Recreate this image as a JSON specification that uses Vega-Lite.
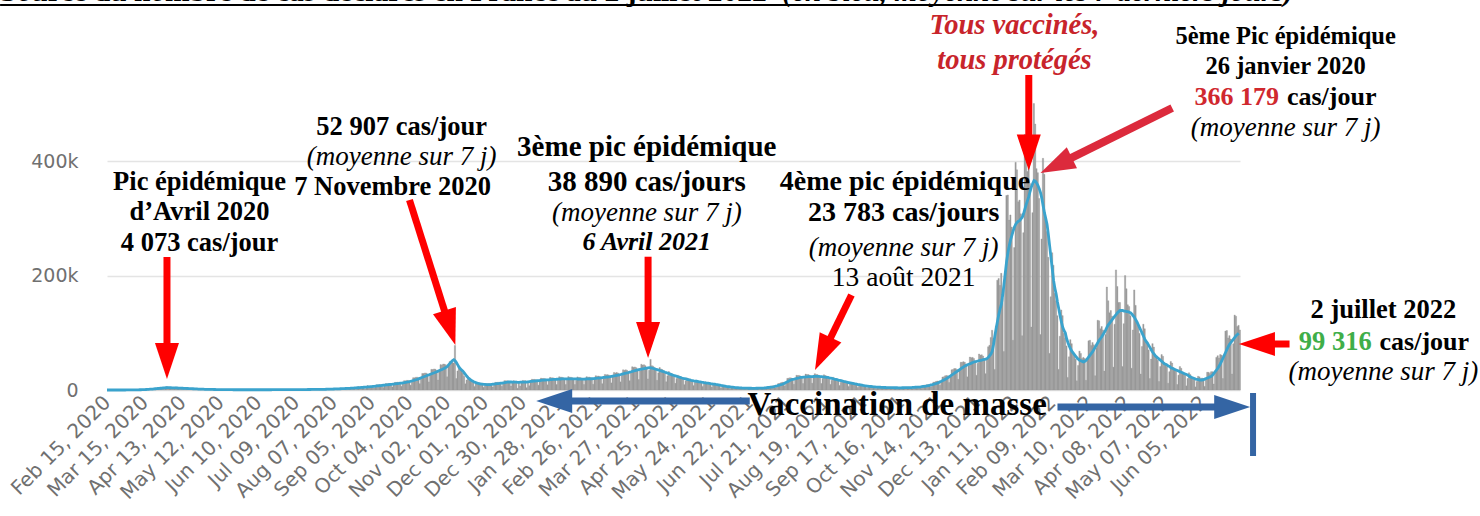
{
"$schema":"https://vega.github.io/schema/vega-lite/v6.json",
"width":1133,"height":286,
"autosize":{"type":"none"},
"padding":{"left":107,"top":104,"right":240,"bottom":126},
"background":"white",
"config":{"view":{"stroke":null},"axis":{"labelFont":"DejaVu Sans"}},
"datasets":{"cases":[
{"d":"2020-02-15","c":0,"a":0},{"d":"2020-02-16","c":0,"a":0},{"d":"2020-02-17","c":0,"a":0},{"d":"2020-02-18","c":0,"a":0},{"d":"2020-02-19","c":0,"a":0},{"d":"2020-02-20","c":0,"a":0},{"d":"2020-02-21","c":0,"a":0},
{"d":"2020-02-22","c":0,"a":0},{"d":"2020-02-23","c":0,"a":0},{"d":"2020-02-24","c":0,"a":0},{"d":"2020-02-25","c":0.01,"a":0.01},{"d":"2020-02-26","c":0.01,"a":0.01},{"d":"2020-02-27","c":0.02,"a":0.02},{"d":"2020-02-28","c":0.02,"a":0.02},
{"d":"2020-02-29","c":0.03,"a":0.03},{"d":"2020-03-01","c":0.02,"a":0.05},{"d":"2020-03-02","c":0.06,"a":0.07},{"d":"2020-03-03","c":0.12,"a":0.08},{"d":"2020-03-04","c":0.12,"a":0.1},{"d":"2020-03-05","c":0.13,"a":0.12},{"d":"2020-03-06","c":0.14,"a":0.13},
{"d":"2020-03-07","c":0.15,"a":0.15},{"d":"2020-03-08","c":0.06,"a":0.21},{"d":"2020-03-09","c":0.22,"a":0.28},{"d":"2020-03-10","c":0.51,"a":0.34},{"d":"2020-03-11","c":0.49,"a":0.41},{"d":"2020-03-12","c":0.52,"a":0.47},{"d":"2020-03-13","c":0.59,"a":0.54},
{"d":"2020-03-14","c":0.6,"a":0.6},{"d":"2020-03-15","c":0.23,"a":0.76},{"d":"2020-03-16","c":0.73,"a":0.91},{"d":"2020-03-17","c":1.6,"a":1.07},{"d":"2020-03-18","c":1.48,"a":1.23},{"d":"2020-03-19","c":1.53,"a":1.39},{"d":"2020-03-20","c":1.69,"a":1.54},
{"d":"2020-03-21","c":1.7,"a":1.7},{"d":"2020-03-22","c":0.58,"a":1.93},{"d":"2020-03-23","c":1.73,"a":2.16},{"d":"2020-03-24","c":3.59,"a":2.39},{"d":"2020-03-25","c":3.13,"a":2.61},{"d":"2020-03-26","c":3.12,"a":2.84},{"d":"2020-03-27","c":3.38,"a":3.07},
{"d":"2020-03-28","c":3.3,"a":3.3},{"d":"2020-03-29","c":1.05,"a":3.5},{"d":"2020-03-30","c":3,"a":3.75},{"d":"2020-03-31","c":5.93,"a":3.95},{"d":"2020-04-01","c":4.88,"a":4.07},{"d":"2020-04-02","c":4.46,"a":4.05},{"d":"2020-04-03","c":4.4,"a":4},
{"d":"2020-04-04","c":3.9,"a":3.9},{"d":"2020-04-05","c":1.15,"a":3.82},{"d":"2020-04-06","c":2.98,"a":3.73},{"d":"2020-04-07","c":5.46,"a":3.64},{"d":"2020-04-08","c":4.27,"a":3.56},{"d":"2020-04-09","c":3.82,"a":3.47},{"d":"2020-04-10","c":3.73,"a":3.39},
{"d":"2020-04-11","c":3.3,"a":3.3},{"d":"2020-04-12","c":0.96,"a":3.19},{"d":"2020-04-13","c":2.46,"a":3.07},{"d":"2020-04-14","c":4.44,"a":2.96},{"d":"2020-04-15","c":3.41,"a":2.84},{"d":"2020-04-16","c":3,"a":2.73},{"d":"2020-04-17","c":2.87,"a":2.61},
{"d":"2020-04-18","c":2.5,"a":2.5},{"d":"2020-04-19","c":0.72,"a":2.39},{"d":"2020-04-20","c":1.82,"a":2.27},{"d":"2020-04-21","c":3.24,"a":2.16},{"d":"2020-04-22","c":2.45,"a":2.04},{"d":"2020-04-23","c":2.12,"a":1.93},{"d":"2020-04-24","c":1.99,"a":1.81},
{"d":"2020-04-25","c":1.7,"a":1.7},{"d":"2020-04-26","c":0.48,"a":1.61},{"d":"2020-04-27","c":1.22,"a":1.53},{"d":"2020-04-28","c":2.16,"a":1.44},{"d":"2020-04-29","c":1.63,"a":1.36},{"d":"2020-04-30","c":1.4,"a":1.27},{"d":"2020-05-01","c":1.31,"a":1.19},
{"d":"2020-05-02","c":1.1,"a":1.1},{"d":"2020-05-03","c":0.32,"a":1.06},{"d":"2020-05-04","c":0.81,"a":1.01},{"d":"2020-05-05","c":1.46,"a":0.97},{"d":"2020-05-06","c":1.12,"a":0.93},{"d":"2020-05-07","c":0.98,"a":0.89},{"d":"2020-05-08","c":0.92,"a":0.84},
{"d":"2020-05-09","c":0.8,"a":0.8},{"d":"2020-05-10","c":0.23,"a":0.77},{"d":"2020-05-11","c":0.59,"a":0.74},{"d":"2020-05-12","c":1.07,"a":0.71},{"d":"2020-05-13","c":0.83,"a":0.69},{"d":"2020-05-14","c":0.73,"a":0.66},{"d":"2020-05-15","c":0.69,"a":0.63},
{"d":"2020-05-16","c":0.6,"a":0.6},{"d":"2020-05-17","c":0.17,"a":0.58},{"d":"2020-05-18","c":0.45,"a":0.56},{"d":"2020-05-19","c":0.81,"a":0.54},{"d":"2020-05-20","c":0.61,"a":0.51},{"d":"2020-05-21","c":0.54,"a":0.49},{"d":"2020-05-22","c":0.52,"a":0.47},
{"d":"2020-05-23","c":0.45,"a":0.45},{"d":"2020-05-24","c":0.13,"a":0.44},{"d":"2020-05-25","c":0.35,"a":0.44},{"d":"2020-05-26","c":0.65,"a":0.43},{"d":"2020-05-27","c":0.5,"a":0.42},{"d":"2020-05-28","c":0.45,"a":0.41},{"d":"2020-05-29","c":0.45,"a":0.41},
{"d":"2020-05-30","c":0.4,"a":0.4},{"d":"2020-05-31","c":0.12,"a":0.4},{"d":"2020-06-01","c":0.32,"a":0.4},{"d":"2020-06-02","c":0.6,"a":0.4},{"d":"2020-06-03","c":0.48,"a":0.4},{"d":"2020-06-04","c":0.44,"a":0.4},{"d":"2020-06-05","c":0.44,"a":0.4},
{"d":"2020-06-06","c":0.4,"a":0.4},{"d":"2020-06-07","c":0.12,"a":0.4},{"d":"2020-06-08","c":0.33,"a":0.41},{"d":"2020-06-09","c":0.62,"a":0.41},{"d":"2020-06-10","c":0.49,"a":0.41},{"d":"2020-06-11","c":0.45,"a":0.41},{"d":"2020-06-12","c":0.46,"a":0.42},
{"d":"2020-06-13","c":0.42,"a":0.42},{"d":"2020-06-14","c":0.13,"a":0.43},{"d":"2020-06-15","c":0.35,"a":0.44},{"d":"2020-06-16","c":0.68,"a":0.45},{"d":"2020-06-17","c":0.54,"a":0.45},{"d":"2020-06-18","c":0.51,"a":0.46},{"d":"2020-06-19","c":0.52,"a":0.47},
{"d":"2020-06-20","c":0.48,"a":0.48},{"d":"2020-06-21","c":0.15,"a":0.49},{"d":"2020-06-22","c":0.4,"a":0.5},{"d":"2020-06-23","c":0.77,"a":0.51},{"d":"2020-06-24","c":0.62,"a":0.52},{"d":"2020-06-25","c":0.58,"a":0.53},{"d":"2020-06-26","c":0.59,"a":0.54},
{"d":"2020-06-27","c":0.55,"a":0.55},{"d":"2020-06-28","c":0.17,"a":0.56},{"d":"2020-06-29","c":0.45,"a":0.56},{"d":"2020-06-30","c":0.86,"a":0.57},{"d":"2020-07-01","c":0.7,"a":0.58},{"d":"2020-07-02","c":0.65,"a":0.59},{"d":"2020-07-03","c":0.65,"a":0.59},
{"d":"2020-07-04","c":0.6,"a":0.6},{"d":"2020-07-05","c":0.18,"a":0.61},{"d":"2020-07-06","c":0.5,"a":0.63},{"d":"2020-07-07","c":0.96,"a":0.64},{"d":"2020-07-08","c":0.79,"a":0.66},{"d":"2020-07-09","c":0.74,"a":0.67},{"d":"2020-07-10","c":0.76,"a":0.69},
{"d":"2020-07-11","c":0.7,"a":0.7},{"d":"2020-07-12","c":0.22,"a":0.72},{"d":"2020-07-13","c":0.59,"a":0.74},{"d":"2020-07-14","c":1.14,"a":0.76},{"d":"2020-07-15","c":0.95,"a":0.79},{"d":"2020-07-16","c":0.89,"a":0.81},{"d":"2020-07-17","c":0.91,"a":0.83},
{"d":"2020-07-18","c":0.85,"a":0.85},{"d":"2020-07-19","c":0.26,"a":0.88},{"d":"2020-07-20","c":0.73,"a":0.91},{"d":"2020-07-21","c":1.41,"a":0.94},{"d":"2020-07-22","c":1.15,"a":0.96},{"d":"2020-07-23","c":1.09,"a":0.99},{"d":"2020-07-24","c":1.12,"a":1.02},
{"d":"2020-07-25","c":1.05,"a":1.05},{"d":"2020-07-26","c":0.33,"a":1.09},{"d":"2020-07-27","c":0.9,"a":1.12},{"d":"2020-07-28","c":1.74,"a":1.16},{"d":"2020-07-29","c":1.43,"a":1.19},{"d":"2020-07-30","c":1.35,"a":1.23},{"d":"2020-07-31","c":1.39,"a":1.26},
{"d":"2020-08-01","c":1.3,"a":1.3},{"d":"2020-08-02","c":0.41,"a":1.37},{"d":"2020-08-03","c":1.15,"a":1.44},{"d":"2020-08-04","c":2.27,"a":1.51},{"d":"2020-08-05","c":1.91,"a":1.59},{"d":"2020-08-06","c":1.83,"a":1.66},{"d":"2020-08-07","c":1.9,"a":1.73},
{"d":"2020-08-08","c":1.8,"a":1.8},{"d":"2020-08-09","c":0.57,"a":1.9},{"d":"2020-08-10","c":1.6,"a":2},{"d":"2020-08-11","c":3.15,"a":2.1},{"d":"2020-08-12","c":2.64,"a":2.2},{"d":"2020-08-13","c":2.53,"a":2.3},{"d":"2020-08-14","c":2.64,"a":2.4},
{"d":"2020-08-15","c":2.5,"a":2.5},{"d":"2020-08-16","c":0.79,"a":2.63},{"d":"2020-08-17","c":2.21,"a":2.76},{"d":"2020-08-18","c":4.34,"a":2.89},{"d":"2020-08-19","c":3.61,"a":3.01},{"d":"2020-08-20","c":3.45,"a":3.14},{"d":"2020-08-21","c":3.6,"a":3.27},
{"d":"2020-08-22","c":3.4,"a":3.4},{"d":"2020-08-23","c":1.07,"a":3.57},{"d":"2020-08-24","c":2.99,"a":3.74},{"d":"2020-08-25","c":5.87,"a":3.91},{"d":"2020-08-26","c":4.91,"a":4.09},{"d":"2020-08-27","c":4.69,"a":4.26},{"d":"2020-08-28","c":4.87,"a":4.43},
{"d":"2020-08-29","c":4.6,"a":4.6},{"d":"2020-08-30","c":1.44,"a":4.8},{"d":"2020-08-31","c":4,"a":5},{"d":"2020-09-01","c":7.8,"a":5.2},{"d":"2020-09-02","c":6.48,"a":5.4},{"d":"2020-09-03","c":6.16,"a":5.6},{"d":"2020-09-04","c":6.38,"a":5.8},
{"d":"2020-09-05","c":6.77,"a":6},{"d":"2020-09-06","c":3.52,"a":6.26},{"d":"2020-09-07","c":6.56,"a":6.51},{"d":"2020-09-08","c":9.05,"a":6.77},{"d":"2020-09-09","c":8.97,"a":7.03},{"d":"2020-09-10","c":9.27,"a":7.29},{"d":"2020-09-11","c":9.14,"a":7.54},
{"d":"2020-09-12","c":8.57,"a":7.8},{"d":"2020-09-13","c":4.42,"a":8.06},{"d":"2020-09-14","c":8.18,"a":8.31},{"d":"2020-09-15","c":11.2,"a":8.57},{"d":"2020-09-16","c":11,"a":8.83},{"d":"2020-09-17","c":11.4,"a":9.09},{"d":"2020-09-18","c":11.1,"a":9.34},
{"d":"2020-09-19","c":10.4,"a":9.6},{"d":"2020-09-20","c":5.35,"a":9.87},{"d":"2020-09-21","c":9.9,"a":10.1},{"d":"2020-09-22","c":13.4,"a":10.4},{"d":"2020-09-23","c":13.2,"a":10.7},{"d":"2020-09-24","c":13.7,"a":11},{"d":"2020-09-25","c":13.4,"a":11.2},
{"d":"2020-09-26","c":12.6,"a":11.5},{"d":"2020-09-27","c":6.45,"a":11.9},{"d":"2020-09-28","c":12,"a":12.2},{"d":"2020-09-29","c":16.3,"a":12.6},{"d":"2020-09-30","c":16.1,"a":12.9},{"d":"2020-10-01","c":16.8,"a":13.3},{"d":"2020-10-02","c":16.8,"a":13.6},
{"d":"2020-10-03","c":15.9,"a":14},{"d":"2020-10-04","c":8.3,"a":14.6},{"d":"2020-10-05","c":15.5,"a":15.3},{"d":"2020-10-06","c":21.5,"a":15.9},{"d":"2020-10-07","c":21.3,"a":16.6},{"d":"2020-10-08","c":22.3,"a":17.2},{"d":"2020-10-09","c":22.4,"a":17.9},
{"d":"2020-10-10","c":21.3,"a":18.5},{"d":"2020-10-11","c":11.1,"a":19.4},{"d":"2020-10-12","c":20.8,"a":20.4},{"d":"2020-10-13","c":28.9,"a":21.3},{"d":"2020-10-14","c":28.8,"a":22.2},{"d":"2020-10-15","c":29.8,"a":23.1},{"d":"2020-10-16","c":29.4,"a":24.1},
{"d":"2020-10-17","c":27.6,"a":25},{"d":"2020-10-18","c":14.2,"a":25.9},{"d":"2020-10-19","c":26.4,"a":26.7},{"d":"2020-10-20","c":36.1,"a":27.6},{"d":"2020-10-21","c":35.7,"a":28.4},{"d":"2020-10-22","c":36.8,"a":29.3},{"d":"2020-10-23","c":36.3,"a":30.1},
{"d":"2020-10-24","c":34,"a":31},{"d":"2020-10-25","c":17.5,"a":32},{"d":"2020-10-26","c":32.4,"a":33},{"d":"2020-10-27","c":44.4,"a":34},{"d":"2020-10-28","c":43.7,"a":35},{"d":"2020-10-29","c":45.4,"a":36},{"d":"2020-10-30","c":45.1,"a":37},
{"d":"2020-10-31","c":44,"a":38},{"d":"2020-11-01","c":23,"a":39.5},{"d":"2020-11-02","c":44,"a":41},{"d":"2020-11-03","c":50,"a":44},{"d":"2020-11-04","c":49,"a":46.5},{"d":"2020-11-05","c":48,"a":49},{"d":"2020-11-06","c":47,"a":51.5},
{"d":"2020-11-07","c":78,"a":52.9},{"d":"2020-11-08","c":20,"a":51},{"d":"2020-11-09","c":33.3,"a":48},{"d":"2020-11-10","c":42,"a":44},{"d":"2020-11-11","c":38,"a":40},{"d":"2020-11-12","c":34.5,"a":37},{"d":"2020-11-13","c":29.7,"a":35},
{"d":"2020-11-14","c":24,"a":33},{"d":"2020-11-15","c":10.8,"a":30},{"d":"2020-11-16","c":17.6,"a":27},{"d":"2020-11-17","c":21,"a":24},{"d":"2020-11-18","c":18.4,"a":21.5},{"d":"2020-11-19","c":17,"a":19.5},{"d":"2020-11-20","c":15.1,"a":17.5},
{"d":"2020-11-21","c":12.8,"a":16},{"d":"2020-11-22","c":6,"a":14.8},{"d":"2020-11-23","c":10.3,"a":13.7},{"d":"2020-11-24","c":13.1,"a":12.8},{"d":"2020-11-25","c":12.1,"a":12},{"d":"2020-11-26","c":11.7,"a":11.4},{"d":"2020-11-27","c":10.9,"a":10.9},
{"d":"2020-11-28","c":9.7,"a":10.5},{"d":"2020-11-29","c":4.75,"a":10.2},{"d":"2020-11-30","c":8.46,"a":9.9},{"d":"2020-12-01","c":11.3,"a":9.7},{"d":"2020-12-02","c":10.9,"a":9.5},{"d":"2020-12-03","c":11.3,"a":9.4},{"d":"2020-12-04","c":11.1,"a":9.4},
{"d":"2020-12-05","c":10.4,"a":9.5},{"d":"2020-12-06","c":5.35,"a":9.8},{"d":"2020-12-07","c":9.9,"a":10.1},{"d":"2020-12-08","c":13.4,"a":10.4},{"d":"2020-12-09","c":13.2,"a":10.7},{"d":"2020-12-10","c":13.7,"a":11},{"d":"2020-12-11","c":13.4,"a":11.2},
{"d":"2020-12-12","c":12.6,"a":11.5},{"d":"2020-12-13","c":6.45,"a":11.9},{"d":"2020-12-14","c":12,"a":12.2},{"d":"2020-12-15","c":16.3,"a":12.6},{"d":"2020-12-16","c":16.1,"a":12.9},{"d":"2020-12-17","c":16.1,"a":13.3},{"d":"2020-12-18","c":15.4,"a":13.6},
{"d":"2020-12-19","c":13.9,"a":14},{"d":"2020-12-20","c":6.9,"a":14},{"d":"2020-12-21","c":12.3,"a":14},{"d":"2020-12-22","c":16.3,"a":13.9},{"d":"2020-12-23","c":15.5,"a":13.8},{"d":"2020-12-24","c":15.5,"a":13.7},{"d":"2020-12-25","c":3,"a":13.6},
{"d":"2020-12-26","c":13.7,"a":13.5},{"d":"2020-12-27","c":6.9,"a":13.5},{"d":"2020-12-28","c":12.5,"a":13.6},{"d":"2020-12-29","c":16.7,"a":13.7},{"d":"2020-12-30","c":16.1,"a":13.8},{"d":"2020-12-31","c":16.4,"a":13.9},{"d":"2021-01-01","c":4,"a":13.9},
{"d":"2021-01-02","c":14.9,"a":14},{"d":"2021-01-03","c":7.55,"a":14.3},{"d":"2021-01-04","c":13.9,"a":14.6},{"d":"2021-01-05","c":18.8,"a":14.9},{"d":"2021-01-06","c":18.4,"a":15.1},{"d":"2021-01-07","c":18.6,"a":15.4},{"d":"2021-01-08","c":18,"a":15.7},
{"d":"2021-01-09","c":16.6,"a":16},{"d":"2021-01-10","c":8.45,"a":16.2},{"d":"2021-01-11","c":15.4,"a":16.4},{"d":"2021-01-12","c":20.8,"a":16.6},{"d":"2021-01-13","c":20.1,"a":16.9},{"d":"2021-01-14","c":20.2,"a":17.1},{"d":"2021-01-15","c":19.6,"a":17.3},
{"d":"2021-01-16","c":17.9,"a":17.5},{"d":"2021-01-17","c":9.05,"a":17.6},{"d":"2021-01-18","c":16.4,"a":17.8},{"d":"2021-01-19","c":22.1,"a":17.9},{"d":"2021-01-20","c":21.3,"a":18.1},{"d":"2021-01-21","c":21.4,"a":18.2},{"d":"2021-01-22","c":20.7,"a":18.4},
{"d":"2021-01-23","c":18.9,"a":18.5},{"d":"2021-01-24","c":9.55,"a":18.6},{"d":"2021-01-25","c":17.3,"a":18.8},{"d":"2021-01-26","c":23.3,"a":18.9},{"d":"2021-01-27","c":22.4,"a":19.1},{"d":"2021-01-28","c":22.4,"a":19.2},{"d":"2021-01-29","c":21.5,"a":19.4},
{"d":"2021-01-30","c":19.5,"a":19.5},{"d":"2021-01-31","c":9.75,"a":19.5},{"d":"2021-02-01","c":17.6,"a":19.5},{"d":"2021-02-02","c":23.4,"a":19.5},{"d":"2021-02-03","c":22.4,"a":19.5},{"d":"2021-02-04","c":22.3,"a":19.5},{"d":"2021-02-05","c":21.3,"a":19.5},
{"d":"2021-02-06","c":19.3,"a":19.5},{"d":"2021-02-07","c":9.6,"a":19.4},{"d":"2021-02-08","c":17.2,"a":19.4},{"d":"2021-02-09","c":22.9,"a":19.3},{"d":"2021-02-10","c":21.9,"a":19.2},{"d":"2021-02-11","c":22,"a":19.1},{"d":"2021-02-12","c":21,"a":19.1},
{"d":"2021-02-13","c":19.2,"a":19},{"d":"2021-02-14","c":9.65,"a":19.1},{"d":"2021-02-15","c":17.5,"a":19.1},{"d":"2021-02-16","c":23.3,"a":19.2},{"d":"2021-02-17","c":22.4,"a":19.3},{"d":"2021-02-18","c":22.7,"a":19.4},{"d":"2021-02-19","c":21.9,"a":19.4},
{"d":"2021-02-20","c":20.1,"a":19.5},{"d":"2021-02-21","c":10.2,"a":19.7},{"d":"2021-02-22","c":18.5,"a":19.9},{"d":"2021-02-23","c":25,"a":20.1},{"d":"2021-02-24","c":24.2,"a":20.4},{"d":"2021-02-25","c":24.5,"a":20.6},{"d":"2021-02-26","c":23.8,"a":20.8},
{"d":"2021-02-27","c":21.9,"a":21},{"d":"2021-02-28","c":11.1,"a":21.3},{"d":"2021-03-01","c":20.2,"a":21.6},{"d":"2021-03-02","c":27.2,"a":21.9},{"d":"2021-03-03","c":26.5,"a":22.1},{"d":"2021-03-04","c":26.9,"a":22.4},{"d":"2021-03-05","c":26.3,"a":22.7},
{"d":"2021-03-06","c":24.3,"a":23},{"d":"2021-03-07","c":12.4,"a":23.4},{"d":"2021-03-08","c":22.6,"a":23.9},{"d":"2021-03-09","c":30.7,"a":24.3},{"d":"2021-03-10","c":29.9,"a":24.7},{"d":"2021-03-11","c":30.6,"a":25.1},{"d":"2021-03-12","c":29.8,"a":25.6},
{"d":"2021-03-13","c":27.7,"a":26},{"d":"2021-03-14","c":14.2,"a":26.6},{"d":"2021-03-15","c":26,"a":27.1},{"d":"2021-03-16","c":35.3,"a":27.7},{"d":"2021-03-17","c":34.5,"a":28.3},{"d":"2021-03-18","c":35.2,"a":28.9},{"d":"2021-03-19","c":34.4,"a":29.4},
{"d":"2021-03-20","c":31.9,"a":30},{"d":"2021-03-21","c":16.3,"a":30.6},{"d":"2021-03-22","c":29.9,"a":31.3},{"d":"2021-03-23","c":40.7,"a":31.9},{"d":"2021-03-24","c":39.7,"a":32.6},{"d":"2021-03-25","c":40.3,"a":33.2},{"d":"2021-03-26","c":39.1,"a":33.9},
{"d":"2021-03-27","c":36,"a":34.5},{"d":"2021-03-28","c":18.3,"a":35},{"d":"2021-03-29","c":33.3,"a":35.5},{"d":"2021-03-30","c":45,"a":36},{"d":"2021-03-31","c":43.7,"a":36.5},{"d":"2021-04-01","c":44.2,"a":37},{"d":"2021-04-02","c":42.6,"a":37.5},
{"d":"2021-04-03","c":38.9,"a":38},{"d":"2021-04-04","c":19.4,"a":38.4},{"d":"2021-04-05","c":34.4,"a":38.7},{"d":"2021-04-06","c":53.5,"a":38.9},{"d":"2021-04-07","c":42.6,"a":38.7},{"d":"2021-04-08","c":41.7,"a":38.2},{"d":"2021-04-09","c":39.2,"a":37.6},
{"d":"2021-04-10","c":34.9,"a":37},{"d":"2021-04-11","c":17.1,"a":36.3},{"d":"2021-04-12","c":30.1,"a":35.6},{"d":"2021-04-13","c":39.2,"a":34.9},{"d":"2021-04-14","c":36.8,"a":34.1},{"d":"2021-04-15","c":35.8,"a":33.4},{"d":"2021-04-16","c":33.3,"a":32.7},
{"d":"2021-04-17","c":29.4,"a":32},{"d":"2021-04-18","c":14.3,"a":31.1},{"d":"2021-04-19","c":24.9,"a":30.3},{"d":"2021-04-20","c":32.3,"a":29.4},{"d":"2021-04-21","c":29.9,"a":28.6},{"d":"2021-04-22","c":29.1,"a":27.7},{"d":"2021-04-23","c":27.1,"a":26.9},
{"d":"2021-04-24","c":23.9,"a":26},{"d":"2021-04-25","c":11.6,"a":25.3},{"d":"2021-04-26","c":20.2,"a":24.6},{"d":"2021-04-27","c":26,"a":23.9},{"d":"2021-04-28","c":24.2,"a":23.1},{"d":"2021-04-29","c":23.5,"a":22.4},{"d":"2021-04-30","c":21.9,"a":21.7},
{"d":"2021-05-01","c":19.3,"a":21},{"d":"2021-05-02","c":9.35,"a":20.4},{"d":"2021-05-03","c":16.3,"a":19.9},{"d":"2021-05-04","c":21.1,"a":19.3},{"d":"2021-05-05","c":19.6,"a":18.7},{"d":"2021-05-06","c":19.1,"a":18.1},{"d":"2021-05-07","c":17.7,"a":17.6},
{"d":"2021-05-08","c":15.7,"a":17},{"d":"2021-05-09","c":7.65,"a":16.6},{"d":"2021-05-10","c":13.4,"a":16.1},{"d":"2021-05-11","c":17.3,"a":15.7},{"d":"2021-05-12","c":16.1,"a":15.3},{"d":"2021-05-13","c":15.6,"a":14.9},{"d":"2021-05-14","c":14.6,"a":14.4},
{"d":"2021-05-15","c":12.9,"a":14},{"d":"2021-05-16","c":6.3,"a":13.6},{"d":"2021-05-17","c":11,"a":13.3},{"d":"2021-05-18","c":14.3,"a":12.9},{"d":"2021-05-19","c":13.2,"a":12.6},{"d":"2021-05-20","c":12.8,"a":12.2},{"d":"2021-05-21","c":11.9,"a":11.9},
{"d":"2021-05-22","c":10.4,"a":11.5},{"d":"2021-05-23","c":5.05,"a":11.1},{"d":"2021-05-24","c":8.73,"a":10.8},{"d":"2021-05-25","c":11.3,"a":10.4},{"d":"2021-05-26","c":10.4,"a":10.1},{"d":"2021-05-27","c":9.89,"a":9.7},{"d":"2021-05-28","c":8.91,"a":9.4},
{"d":"2021-05-29","c":7.7,"a":9},{"d":"2021-05-30","c":3.65,"a":8.6},{"d":"2021-05-31","c":6.21,"a":8.1},{"d":"2021-06-01","c":7.68,"a":7.7},{"d":"2021-06-02","c":6.9,"a":7.3},{"d":"2021-06-03","c":6.56,"a":6.9},{"d":"2021-06-04","c":5.94,"a":6.4},
{"d":"2021-06-05","c":5.1,"a":6},{"d":"2021-06-06","c":2.45,"a":5.7},{"d":"2021-06-07","c":4.14,"a":5.4},{"d":"2021-06-08","c":5.16,"a":5.1},{"d":"2021-06-09","c":4.6,"a":4.9},{"d":"2021-06-10","c":4.49,"a":4.6},{"d":"2021-06-11","c":4.18,"a":4.3},
{"d":"2021-06-12","c":3.7,"a":4},{"d":"2021-06-13","c":1.75,"a":3.9},{"d":"2021-06-14","c":3.06,"a":3.8},{"d":"2021-06-15","c":3.96,"a":3.7},{"d":"2021-06-16","c":3.68,"a":3.5},{"d":"2021-06-17","c":3.68,"a":3.4},{"d":"2021-06-18","c":3.41,"a":3.3},
{"d":"2021-06-19","c":3.1,"a":3.2},{"d":"2021-06-20","c":1.55,"a":3.2},{"d":"2021-06-21","c":2.7,"a":3.1},{"d":"2021-06-22","c":3.6,"a":3.1},{"d":"2021-06-23","c":3.45,"a":3.1},{"d":"2021-06-24","c":3.57,"a":3},{"d":"2021-06-25","c":3.41,"a":3},
{"d":"2021-06-26","c":3.2,"a":3},{"d":"2021-06-27","c":1.65,"a":3.1},{"d":"2021-06-28","c":3.06,"a":3.1},{"d":"2021-06-29","c":4.08,"a":3.2},{"d":"2021-06-30","c":4.03,"a":3.3},{"d":"2021-07-01","c":4.37,"a":3.4},{"d":"2021-07-02","c":4.51,"a":3.4},
{"d":"2021-07-03","c":4.4,"a":3.5},{"d":"2021-07-04","c":2.3,"a":3.8},{"d":"2021-07-05","c":4.41,"a":4.1},{"d":"2021-07-06","c":6.24,"a":4.4},{"d":"2021-07-07","c":6.33,"a":4.6},{"d":"2021-07-08","c":7.02,"a":4.9},{"d":"2021-07-09","c":7.48,"a":5.2},
{"d":"2021-07-10","c":7.4,"a":5.5},{"d":"2021-07-11","c":4.05,"a":6.1},{"d":"2021-07-12","c":7.83,"a":6.8},{"d":"2021-07-13","c":11.3,"a":7.4},{"d":"2021-07-14","c":11.5,"a":8.1},{"d":"2021-07-15","c":12.8,"a":8.7},{"d":"2021-07-16","c":13.5,"a":9.4},
{"d":"2021-07-17","c":13.4,"a":10},{"d":"2021-07-18","c":7.3,"a":11.1},{"d":"2021-07-19","c":14.1,"a":12.3},{"d":"2021-07-20","c":20.3,"a":13.4},{"d":"2021-07-21","c":20.7,"a":14.6},{"d":"2021-07-22","c":21.4,"a":15.7},{"d":"2021-07-23","c":21,"a":16.9},
{"d":"2021-07-24","c":19.7,"a":18},{"d":"2021-07-25","c":10.2,"a":18.6},{"d":"2021-07-26","c":18.8,"a":19.1},{"d":"2021-07-27","c":25.7,"a":19.7},{"d":"2021-07-28","c":25.3,"a":20.3},{"d":"2021-07-29","c":25.5,"a":20.9},{"d":"2021-07-30","c":24.6,"a":21.4},
{"d":"2021-07-31","c":22.6,"a":22},{"d":"2021-08-01","c":11.4,"a":22.2},{"d":"2021-08-02","c":20.7,"a":22.4},{"d":"2021-08-03","c":27.8,"a":22.6},{"d":"2021-08-04","c":26.9,"a":22.8},{"d":"2021-08-05","c":27,"a":23},{"d":"2021-08-06","c":25.9,"a":23.2},
{"d":"2021-08-07","c":23.6,"a":23.4},{"d":"2021-08-08","c":11.9,"a":23.5},{"d":"2021-08-09","c":21.3,"a":23.5},{"d":"2021-08-10","c":28.6,"a":23.6},{"d":"2021-08-11","c":27.3,"a":23.7},{"d":"2021-08-12","c":27,"a":23.7},{"d":"2021-08-13","c":25.6,"a":23.8},
{"d":"2021-08-14","c":23,"a":23.7},{"d":"2021-08-15","c":11.4,"a":23.5},{"d":"2021-08-16","c":20.2,"a":23.3},{"d":"2021-08-17","c":26.6,"a":23},{"d":"2021-08-18","c":25.3,"a":22.7},{"d":"2021-08-19","c":24.6,"a":22.4},{"d":"2021-08-20","c":23,"a":22.2},
{"d":"2021-08-21","c":20.3,"a":22},{"d":"2021-08-22","c":9.85,"a":21.4},{"d":"2021-08-23","c":17.2,"a":20.9},{"d":"2021-08-24","c":22.3,"a":20.3},{"d":"2021-08-25","c":20.7,"a":19.7},{"d":"2021-08-26","c":20,"a":19.1},{"d":"2021-08-27","c":18.6,"a":18.6},
{"d":"2021-08-28","c":16.3,"a":18},{"d":"2021-08-29","c":7.85,"a":17.4},{"d":"2021-08-30","c":13.6,"a":16.9},{"d":"2021-08-31","c":17.5,"a":16.3},{"d":"2021-09-01","c":16.1,"a":15.7},{"d":"2021-09-02","c":15.5,"a":15.1},{"d":"2021-09-03","c":14.3,"a":14.6},
{"d":"2021-09-04","c":12.5,"a":14},{"d":"2021-09-05","c":6,"a":13.5},{"d":"2021-09-06","c":10.4,"a":13},{"d":"2021-09-07","c":13.2,"a":12.5},{"d":"2021-09-08","c":12.1,"a":12},{"d":"2021-09-09","c":11.6,"a":11.5},{"d":"2021-09-10","c":10.6,"a":11},
{"d":"2021-09-11","c":9.2,"a":10.5},{"d":"2021-09-12","c":4.4,"a":10.1},{"d":"2021-09-13","c":7.56,"a":9.6},{"d":"2021-09-14","c":9.48,"a":9.2},{"d":"2021-09-15","c":8.63,"a":8.8},{"d":"2021-09-16","c":8.28,"a":8.4},{"d":"2021-09-17","c":7.59,"a":7.9},
{"d":"2021-09-18","c":6.6,"a":7.5},{"d":"2021-09-19","c":3.2,"a":7.2},{"d":"2021-09-20","c":5.49,"a":6.9},{"d":"2021-09-21","c":6.96,"a":6.6},{"d":"2021-09-22","c":6.33,"a":6.4},{"d":"2021-09-23","c":6.21,"a":6.1},{"d":"2021-09-24","c":5.72,"a":5.8},
{"d":"2021-09-25","c":5.1,"a":5.5},{"d":"2021-09-26","c":2.45,"a":5.4},{"d":"2021-09-27","c":4.32,"a":5.2},{"d":"2021-09-28","c":5.52,"a":5.1},{"d":"2021-09-29","c":5.18,"a":4.9},{"d":"2021-09-30","c":5.06,"a":4.8},{"d":"2021-10-01","c":4.84,"a":4.6},
{"d":"2021-10-02","c":4.3,"a":4.5},{"d":"2021-10-03","c":2.1,"a":4.4},{"d":"2021-10-04","c":3.69,"a":4.4},{"d":"2021-10-05","c":4.92,"a":4.3},{"d":"2021-10-06","c":4.6,"a":4.2},{"d":"2021-10-07","c":4.6,"a":4.1},{"d":"2021-10-08","c":4.29,"a":4.1},
{"d":"2021-10-09","c":3.9,"a":4},{"d":"2021-10-10","c":1.95,"a":4},{"d":"2021-10-11","c":3.42,"a":3.9},{"d":"2021-10-12","c":4.56,"a":3.9},{"d":"2021-10-13","c":4.37,"a":3.9},{"d":"2021-10-14","c":4.49,"a":3.8},{"d":"2021-10-15","c":4.29,"a":3.8},
{"d":"2021-10-16","c":4,"a":3.8},{"d":"2021-10-17","c":2,"a":3.9},{"d":"2021-10-18","c":3.69,"a":3.9},{"d":"2021-10-19","c":4.92,"a":4},{"d":"2021-10-20","c":4.83,"a":4},{"d":"2021-10-21","c":4.95,"a":4.1},{"d":"2021-10-22","c":4.95,"a":4.1},
{"d":"2021-10-23","c":4.6,"a":4.2},{"d":"2021-10-24","c":2.4,"a":4.3},{"d":"2021-10-25","c":4.41,"a":4.5},{"d":"2021-10-26","c":6.12,"a":4.6},{"d":"2021-10-27","c":5.98,"a":4.8},{"d":"2021-10-28","c":6.33,"a":4.9},{"d":"2021-10-29","c":6.49,"a":5.1},
{"d":"2021-10-30","c":6.2,"a":5.2},{"d":"2021-10-31","c":3.25,"a":5.5},{"d":"2021-11-01","c":6.12,"a":5.9},{"d":"2021-11-02","c":8.64,"a":6.2},{"d":"2021-11-03","c":8.63,"a":6.5},{"d":"2021-11-04","c":9.32,"a":6.8},{"d":"2021-11-05","c":9.68,"a":7.2},
{"d":"2021-11-06","c":9.4,"a":7.5},{"d":"2021-11-07","c":5.05,"a":8.1},{"d":"2021-11-08","c":9.63,"a":8.8},{"d":"2021-11-09","c":13.7,"a":9.4},{"d":"2021-11-10","c":13.8,"a":10.1},{"d":"2021-11-11","c":15.1,"a":10.7},{"d":"2021-11-12","c":15.7,"a":11.4},
{"d":"2021-11-13","c":15.4,"a":12},{"d":"2021-11-14","c":8.3,"a":13.1},{"d":"2021-11-15","c":15.9,"a":14.3},{"d":"2021-11-16","c":22.7,"a":15.4},{"d":"2021-11-17","c":23,"a":16.6},{"d":"2021-11-18","c":24.8,"a":17.7},{"d":"2021-11-19","c":25.4,"a":18.9},
{"d":"2021-11-20","c":24.7,"a":20},{"d":"2021-11-21","c":13.2,"a":21.6},{"d":"2021-11-22","c":25.1,"a":23.1},{"d":"2021-11-23","c":35.3,"a":24.7},{"d":"2021-11-24","c":35.7,"a":26.3},{"d":"2021-11-25","c":37.5,"a":27.9},{"d":"2021-11-26","c":37.5,"a":29.4},
{"d":"2021-11-27","c":35.7,"a":31},{"d":"2021-11-28","c":18.7,"a":32.6},{"d":"2021-11-29","c":35,"a":34.1},{"d":"2021-11-30","c":48.5,"a":35.7},{"d":"2021-12-01","c":48.3,"a":37.3},{"d":"2021-12-02","c":49.5,"a":38.9},{"d":"2021-12-03","c":48.4,"a":40.4},
{"d":"2021-12-04","c":45,"a":42},{"d":"2021-12-05","c":23,"a":43},{"d":"2021-12-06","c":42.3,"a":44},{"d":"2021-12-07","c":57.6,"a":45},{"d":"2021-12-08","c":56.4,"a":46},{"d":"2021-12-09","c":57,"a":47},{"d":"2021-12-10","c":55.1,"a":48},
{"d":"2021-12-11","c":50.7,"a":49},{"d":"2021-12-12","c":25.7,"a":49.6},{"d":"2021-12-13","c":46.7,"a":50.1},{"d":"2021-12-14","c":62.9,"a":50.7},{"d":"2021-12-15","c":61,"a":51.3},{"d":"2021-12-16","c":61.5,"a":51.9},{"d":"2021-12-17","c":59.4,"a":52.4},
{"d":"2021-12-18","c":55,"a":53},{"d":"2021-12-19","c":28.5,"a":53.5},{"d":"2021-12-20","c":54,"a":54},{"d":"2021-12-21","c":75.6,"a":55},{"d":"2021-12-22","c":78.2,"a":57},{"d":"2021-12-23","c":92,"a":60},{"d":"2021-12-24","c":104.5,"a":63},
{"d":"2021-12-25","c":90,"a":68},{"d":"2021-12-26","c":36,"a":80},{"d":"2021-12-27","c":112,"a":95},{"d":"2021-12-28","c":192,"a":108},{"d":"2021-12-29","c":195,"a":120},{"d":"2021-12-30","c":183,"a":132},{"d":"2021-12-31","c":204,"a":142},
{"d":"2022-01-01","c":160,"a":150},{"d":"2022-01-02","c":67.5,"a":166},{"d":"2022-01-03","c":204,"a":185},{"d":"2022-01-04","c":340,"a":205},{"d":"2022-01-05","c":341,"a":225},{"d":"2022-01-06","c":297,"a":240},{"d":"2022-01-07","c":306,"a":252},
{"d":"2022-01-08","c":285,"a":262},{"d":"2022-01-09","c":87,"a":270},{"d":"2022-01-10","c":249,"a":278},{"d":"2022-01-11","c":398,"a":285},{"d":"2022-01-12","c":385,"a":290},{"d":"2022-01-13","c":329,"a":293},{"d":"2022-01-14","c":332,"a":295},
{"d":"2022-01-15","c":308,"a":296},{"d":"2022-01-16","c":95,"a":299},{"d":"2022-01-17","c":275,"a":302},{"d":"2022-01-18","c":447,"a":308},{"d":"2022-01-19","c":439,"a":316},{"d":"2022-01-20","c":382,"a":324},{"d":"2022-01-21","c":391,"a":331},
{"d":"2022-01-22","c":361,"a":338},{"d":"2022-01-23","c":110,"a":347},{"d":"2022-01-24","c":310,"a":355},{"d":"2022-01-25","c":501,"a":361},{"d":"2022-01-26","c":465,"a":366},{"d":"2022-01-27","c":387,"a":365},{"d":"2022-01-28","c":380,"a":362},
{"d":"2022-01-29","c":335,"a":358},{"d":"2022-01-30","c":97,"a":352},{"d":"2022-01-31","c":264,"a":345},{"d":"2022-02-01","c":405,"a":335},{"d":"2022-02-02","c":377,"a":322},{"d":"2022-02-03","c":299,"a":310},{"d":"2022-02-04","c":277,"a":300},
{"d":"2022-02-05","c":232,"a":290},{"d":"2022-02-06","c":64,"a":272},{"d":"2022-02-07","c":163,"a":252},{"d":"2022-02-08","c":240,"a":232},{"d":"2022-02-09","c":218,"a":212},{"d":"2022-02-10","c":169,"a":192},{"d":"2022-02-11","c":156,"a":178},
{"d":"2022-02-12","c":130,"a":168},{"d":"2022-02-13","c":36,"a":154},{"d":"2022-02-14","c":94,"a":142},{"d":"2022-02-15","c":140,"a":130},{"d":"2022-02-16","c":130,"a":119},{"d":"2022-02-17","c":99,"a":110},{"d":"2022-02-18","c":91,"a":104},
{"d":"2022-02-19","c":77,"a":100},{"d":"2022-02-20","c":22,"a":90},{"d":"2022-02-21","c":58,"a":83},{"d":"2022-02-22","c":88,"a":77},{"d":"2022-02-23","c":81,"a":72},{"d":"2022-02-24","c":65,"a":68},{"d":"2022-02-25","c":62,"a":65},
{"d":"2022-02-26","c":54,"a":62},{"d":"2022-02-27","c":16,"a":59},{"d":"2022-02-28","c":43,"a":56},{"d":"2022-03-01","c":68,"a":54},{"d":"2022-03-02","c":64,"a":52},{"d":"2022-03-03","c":55,"a":51},{"d":"2022-03-04","c":57,"a":50},
{"d":"2022-03-05","c":55,"a":49},{"d":"2022-03-06","c":17,"a":50},{"d":"2022-03-07","c":52,"a":52},{"d":"2022-03-08","c":86,"a":55},{"d":"2022-03-09","c":87,"a":58},{"d":"2022-03-10","c":78,"a":61},{"d":"2022-03-11","c":83,"a":64},
{"d":"2022-03-12","c":79,"a":67},{"d":"2022-03-13","c":25,"a":71},{"d":"2022-03-14","c":74,"a":75},{"d":"2022-03-15","c":122,"a":79},{"d":"2022-03-16","c":121,"a":83},{"d":"2022-03-17","c":107,"a":87},{"d":"2022-03-18","c":111,"a":90},
{"d":"2022-03-19","c":105,"a":93},{"d":"2022-03-20","c":33,"a":97},{"d":"2022-03-21","c":97,"a":101},{"d":"2022-03-22","c":180,"a":105},{"d":"2022-03-23","c":156,"a":110},{"d":"2022-03-24","c":135,"a":114},{"d":"2022-03-25","c":139,"a":117},
{"d":"2022-03-26","c":129,"a":120},{"d":"2022-03-27","c":40,"a":123},{"d":"2022-03-28","c":115,"a":126},{"d":"2022-03-29","c":210,"a":129},{"d":"2022-03-30","c":181,"a":132},{"d":"2022-03-31","c":153,"a":135},{"d":"2022-04-01","c":153,"a":137},
{"d":"2022-04-02","c":138,"a":139},{"d":"2022-04-03","c":41,"a":139},{"d":"2022-04-04","c":116,"a":139},{"d":"2022-04-05","c":200,"a":138},{"d":"2022-04-06","c":177,"a":138},{"d":"2022-04-07","c":149,"a":137},{"d":"2022-04-08","c":146,"a":137},
{"d":"2022-04-09","c":130,"a":136},{"d":"2022-04-10","c":38,"a":135},{"d":"2022-04-11","c":105,"a":133},{"d":"2022-04-12","c":175,"a":130},{"d":"2022-04-13","c":148,"a":127},{"d":"2022-04-14","c":120,"a":123},{"d":"2022-04-15","c":114,"a":119},
{"d":"2022-04-16","c":99,"a":114},{"d":"2022-04-17","c":28,"a":109},{"d":"2022-04-18","c":76,"a":104},{"d":"2022-04-19","c":115,"a":99},{"d":"2022-04-20","c":107,"a":94},{"d":"2022-04-21","c":86,"a":89},{"d":"2022-04-22","c":81,"a":85},
{"d":"2022-04-23","c":70,"a":82},{"d":"2022-04-24","c":20,"a":78},{"d":"2022-04-25","c":54,"a":74},{"d":"2022-04-26","c":81,"a":70},{"d":"2022-04-27","c":75,"a":66},{"d":"2022-04-28","c":62,"a":63},{"d":"2022-04-29","c":59,"a":60},
{"d":"2022-04-30","c":52,"a":58},{"d":"2022-05-01","c":15,"a":56},{"d":"2022-05-02","c":41,"a":54},{"d":"2022-05-03","c":62,"a":52},{"d":"2022-05-04","c":59,"a":50},{"d":"2022-05-05","c":48,"a":48},{"d":"2022-05-06","c":46,"a":46},
{"d":"2022-05-07","c":41,"a":45},{"d":"2022-05-08","c":12,"a":44},{"d":"2022-05-09","c":32,"a":42},{"d":"2022-05-10","c":50,"a":41},{"d":"2022-05-11","c":47,"a":39},{"d":"2022-05-12","c":39,"a":38},{"d":"2022-05-13","c":37,"a":37},
{"d":"2022-05-14","c":33,"a":36},{"d":"2022-05-15","c":9.6,"a":35},{"d":"2022-05-16","c":26,"a":34},{"d":"2022-05-17","c":41,"a":33},{"d":"2022-05-18","c":38,"a":32},{"d":"2022-05-19","c":31,"a":31},{"d":"2022-05-20","c":30,"a":30},
{"d":"2022-05-21","c":26,"a":29},{"d":"2022-05-22","c":7.2,"a":28},{"d":"2022-05-23","c":20,"a":27},{"d":"2022-05-24","c":30,"a":26},{"d":"2022-05-25","c":27,"a":24},{"d":"2022-05-26","c":22,"a":23},{"d":"2022-05-27","c":21,"a":22},
{"d":"2022-05-28","c":18.5,"a":21},{"d":"2022-05-29","c":5.4,"a":20},{"d":"2022-05-30","c":15,"a":19},{"d":"2022-05-31","c":24,"a":18.5},{"d":"2022-06-01","c":23,"a":18},{"d":"2022-06-02","c":20,"a":17.5},{"d":"2022-06-03","c":21,"a":17.5},
{"d":"2022-06-04","c":20,"a":17.5},{"d":"2022-06-05","c":6.3,"a":18},{"d":"2022-06-06","c":19,"a":19},{"d":"2022-06-07","c":31,"a":20},{"d":"2022-06-08","c":31,"a":21},{"d":"2022-06-09","c":29,"a":22},{"d":"2022-06-10","c":32,"a":23},
{"d":"2022-06-11","c":32,"a":24},{"d":"2022-06-12","c":10.5,"a":26},{"d":"2022-06-13","c":32,"a":29},{"d":"2022-06-14","c":57,"a":32},{"d":"2022-06-15","c":60,"a":35},{"d":"2022-06-16","c":56,"a":38},{"d":"2022-06-17","c":62,"a":42},
{"d":"2022-06-18","c":61,"a":46},{"d":"2022-06-19","c":20,"a":51},{"d":"2022-06-20","c":60,"a":56},{"d":"2022-06-21","c":103,"a":61},{"d":"2022-06-22","c":104,"a":66},{"d":"2022-06-23","c":91,"a":71},{"d":"2022-06-24","c":95,"a":76},
{"d":"2022-06-25","c":89,"a":80},{"d":"2022-06-26","c":28,"a":83},{"d":"2022-06-27","c":81,"a":86},{"d":"2022-06-28","c":131,"a":89},{"d":"2022-06-29","c":129,"a":92},{"d":"2022-06-30","c":111,"a":95},{"d":"2022-07-01","c":113,"a":97},
{"d":"2022-07-02","c":105,"a":99.3}
]},
"layer":[
{"data":{"name":"cases"},
 "mark":{"type":"bar","color":"#9a9a9a","binSpacing":0,"stroke":"#9a9a9a","strokeWidth":0.35},
 "encoding":{
  "x":{"field":"d","type":"temporal","timeUnit":"utcyearmonthdate",
   "scale":{"type":"utc","domain":[{"year":2020,"month":2,"date":15,"utc":true},{"year":2022,"month":7,"date":3,"utc":true}]},
   "axis":{"title":null,"format":"%b %d, %Y","labelAngle":-45,"labelAlign":"right","labelBaseline":"middle","labelFontSize":20,"labelColor":"#707070","ticks":false,"tickSize":0,"tickCount":60,"domain":false,"grid":false,"labelPadding":9,"labelOverlap":false,"labelFlush":false,
    "values":[{"year":2020,"month":2,"date":15,"utc":true},{"year":2020,"month":3,"date":15,"utc":true},{"year":2020,"month":4,"date":13,"utc":true},{"year":2020,"month":5,"date":12,"utc":true},{"year":2020,"month":6,"date":10,"utc":true},{"year":2020,"month":7,"date":9,"utc":true},{"year":2020,"month":8,"date":7,"utc":true},{"year":2020,"month":9,"date":5,"utc":true},{"year":2020,"month":10,"date":4,"utc":true},{"year":2020,"month":11,"date":2,"utc":true},{"year":2020,"month":12,"date":1,"utc":true},{"year":2020,"month":12,"date":30,"utc":true},{"year":2021,"month":1,"date":28,"utc":true},{"year":2021,"month":2,"date":26,"utc":true},{"year":2021,"month":3,"date":27,"utc":true},{"year":2021,"month":4,"date":25,"utc":true},{"year":2021,"month":5,"date":24,"utc":true},{"year":2021,"month":6,"date":22,"utc":true},{"year":2021,"month":7,"date":21,"utc":true},{"year":2021,"month":8,"date":19,"utc":true},{"year":2021,"month":9,"date":17,"utc":true},{"year":2021,"month":10,"date":16,"utc":true},{"year":2021,"month":11,"date":14,"utc":true},{"year":2021,"month":12,"date":13,"utc":true},{"year":2022,"month":1,"date":11,"utc":true},{"year":2022,"month":2,"date":9,"utc":true},{"year":2022,"month":3,"date":10,"utc":true},{"year":2022,"month":4,"date":8,"utc":true},{"year":2022,"month":5,"date":7,"utc":true},{"year":2022,"month":6,"date":5,"utc":true}]}},
  "y":{"field":"c","type":"quantitative","scale":{"domain":[0,500],"nice":false},
   "axis":{"title":null,"values":[0,200,400],"labelExpr":"datum.value == 0 ? '0' : datum.value + 'k'","labelFontSize":19,"labelColor":"#707070","ticks":false,"tickSize":0,"domain":false,"labelPadding":29,"gridColor":"#e4e4e4","gridWidth":1.5}}}},
{"data":{"name":"cases"},
 "mark":{"type":"line","color":"#3aa3cd","strokeWidth":2.8},
 "encoding":{"x":{"field":"d","type":"temporal"},"y":{"field":"a","type":"quantitative"}}},
{"data":{"values":[{"d":"2019-11-25","v":673.1,"d2":"2022-08-04","v2":673.1}],"format":{"parse":{"d":"date","d2":"date"}}},
 "mark":{"type":"rule","color":"#000000","strokeWidth":1.8},
 "encoding":{"x":{"field":"d","type":"temporal"},"y":{"field":"v","type":"quantitative"},"x2":{"field":"d2"},"y2":{"field":"v2"}}},
{"data":{"values":[{"d":"2019-11-25","v":679.2,"t":"Source du nombre de cas déclarés en France au 2 juillet 2022"}]},
 "mark":{"type":"text","font":"Liberation Serif","fontWeight":"bold","fontSize":29.5,"color":"#000000","align":"left","baseline":"alphabetic"},
 "encoding":{"x":{"field":"d","type":"temporal"},"y":{"field":"v","type":"quantitative"},"text":{"field":"t"}}},
{"data":{"values":[{"d":"2021-07-17","v":679.2,"t":"(en bleu, moyenne sur les 7 derniers jours)"}]},
 "mark":{"type":"text","font":"Liberation Serif","fontWeight":"bold","fontStyle":"italic","fontSize":29,"color":"#000000","align":"left","baseline":"alphabetic"},
 "encoding":{"x":{"field":"d","type":"temporal"},"y":{"field":"v","type":"quantitative"},"text":{"field":"t"}}},
{"data":{"values":[
  {"d":"2020-04-01","v":232.5,"d2":"2020-04-01","v2":50.7},
  {"d":"2020-10-04","v":332.2,"d2":"2020-11-04","v2":108.7},
  {"d":"2021-04-05","v":233,"d2":"2021-04-05","v2":87.4},
  {"d":"2021-09-08","v":166.1,"d2":"2021-08-17","v2":63.5},
  {"d":"2022-01-22","v":550.7,"d2":"2022-01-22","v2":415.2},
  {"d":"2022-08-10","v":80.4,"d2":"2022-07-16","v2":80.4}],"format":{"parse":{"d":"date","d2":"date"}}},
 "mark":{"type":"rule","color":"#ff0000","strokeWidth":7},
 "encoding":{"x":{"field":"d","type":"temporal"},"y":{"field":"v","type":"quantitative"},"x2":{"field":"d2"},"y2":{"field":"v2"}}},
{"data":{"values":[{"d":"2022-05-12","v":493,"d2":"2022-02-12","v2":392.7}],"format":{"parse":{"d":"date","d2":"date"}}},
 "mark":{"type":"rule","color":"#dc2a3c","strokeWidth":8},
 "encoding":{"x":{"field":"d","type":"temporal"},"y":{"field":"v","type":"quantitative"},"x2":{"field":"d2"},"y2":{"field":"v2"}}},
{"data":{"values":[
  {"d":"2021-06-22","v":-19.2,"d2":"2021-01-23","v2":-19.2},
  {"d":"2022-02-13","v":-29.7,"d2":"2022-06-27","v2":-29.7}],"format":{"parse":{"d":"date","d2":"date"}}},
 "mark":{"type":"rule","color":"#3465a4","strokeWidth":7},
 "encoding":{"x":{"field":"d","type":"temporal"},"y":{"field":"v","type":"quantitative"},"x2":{"field":"d2"},"y2":{"field":"v2"}}},
{"data":{"values":[{"d":"2022-07-13","v":-5.2,"d2":"2022-07-13","v2":-115.4}],"format":{"parse":{"d":"date","d2":"date"}}},
 "mark":{"type":"rule","color":"#3465a4","strokeWidth":6},
 "encoding":{"x":{"field":"d","type":"temporal"},"y":{"field":"v","type":"quantitative"},"x2":{"field":"d2"},"y2":{"field":"v2"}}},
{"data":{"values":[{"d":"2020-04-01","v":50.7},{"d":"2021-04-05","v":87.4},{"d":"2022-01-22","v":415.2}]},
 "mark":{"type":"point","shape":"M-0.667,-1L0.667,-1L0,1Z","size":1296,"filled":true,"opacity":1,"color":"#ff0000","strokeWidth":0,"angle":0},
 "encoding":{"x":{"field":"d","type":"temporal"},"y":{"field":"v","type":"quantitative"}}},
{"data":{"values":[{"d":"2020-11-04","v":108.7}]},
 "mark":{"type":"point","shape":"M-0.667,-1L0.667,-1L0,1Z","size":1296,"filled":true,"opacity":1,"color":"#ff0000","strokeWidth":0,"angle":-17.6},
 "encoding":{"x":{"field":"d","type":"temporal"},"y":{"field":"v","type":"quantitative"}}},
{"data":{"values":[{"d":"2021-08-17","v":63.5}]},
 "mark":{"type":"point","shape":"M-0.667,-1L0.667,-1L0,1Z","size":1296,"filled":true,"opacity":1,"color":"#ff0000","strokeWidth":0,"angle":25.5},
 "encoding":{"x":{"field":"d","type":"temporal"},"y":{"field":"v","type":"quantitative"}}},
{"data":{"values":[{"d":"2022-02-12","v":392.7}]},
 "mark":{"type":"point","shape":"M-0.667,-1L0.667,-1L0,1Z","size":1225,"filled":true,"opacity":1,"color":"#dc2a3c","strokeWidth":0,"angle":64},
 "encoding":{"x":{"field":"d","type":"temporal"},"y":{"field":"v","type":"quantitative"}}},
{"data":{"values":[{"d":"2022-07-16","v":80.4}]},
 "mark":{"type":"point","shape":"M-0.667,-1L0.667,-1L0,1Z","size":1296,"filled":true,"opacity":1,"color":"#ff0000","strokeWidth":0,"angle":90},
 "encoding":{"x":{"field":"d","type":"temporal"},"y":{"field":"v","type":"quantitative"}}},
{"data":{"values":[{"d":"2021-01-23","v":-19.2}]},
 "mark":{"type":"point","shape":"M-0.667,-1L0.667,-1L0,1Z","size":1296,"filled":true,"opacity":1,"color":"#3465a4","strokeWidth":0,"angle":90},
 "encoding":{"x":{"field":"d","type":"temporal"},"y":{"field":"v","type":"quantitative"}}},
{"data":{"values":[{"d":"2022-06-27","v":-29.7}]},
 "mark":{"type":"point","shape":"M-0.667,-1L0.667,-1L0,1Z","size":1296,"filled":true,"opacity":1,"color":"#3465a4","strokeWidth":0,"angle":-90},
 "encoding":{"x":{"field":"d","type":"temporal"},"y":{"field":"v","type":"quantitative"}}},
{"data":{"values":[
  {"d":"2020-04-26","v":363.6,"t":"Pic épidémique"},
  {"d":"2020-04-26","v":311.2,"t":"d’Avril 2020"},
  {"d":"2020-04-26","v":257,"t":"4 073 cas/jour"},
  {"d":"2020-09-28","v":459.8,"t":"52 907 cas/jour"},
  {"d":"2020-09-21","v":354.9,"t":"7 Novembre 2020"},
  {"d":"2022-10-21","v":139.9,"t":"2 juillet 2022"}]},
 "mark":{"type":"text","font":"Liberation Serif","fontWeight":"bold","fontSize":26.5,"color":"#000000","align":"center","baseline":"middle"},
 "encoding":{"x":{"field":"d","type":"temporal"},"y":{"field":"v","type":"quantitative"},"text":{"field":"t"}}},
{"data":{"values":[
  {"d":"2020-09-28","v":407.3,"t":"(moyenne sur 7 j)"},
  {"d":"2021-04-04","v":309.4,"t":"(moyenne sur 7 j)"},
  {"d":"2021-10-18","v":248.3,"t":"(moyenne sur 7 j)"},
  {"d":"2022-08-07","v":458,"t":"(moyenne sur 7 j)"},
  {"d":"2022-10-21","v":31.5,"t":"(moyenne sur 7 j)"}]},
 "mark":{"type":"text","font":"Liberation Serif","fontStyle":"italic","fontSize":27,"color":"#000000","align":"center","baseline":"middle"},
 "encoding":{"x":{"field":"d","type":"temporal"},"y":{"field":"v","type":"quantitative"},"text":{"field":"t"}}},
{"data":{"values":[
  {"d":"2021-04-04","v":424.8,"t":"3ème pic épidémique"},
  {"d":"2021-04-04","v":363.6,"t":"38 890 cas/jours"}]},
 "mark":{"type":"text","font":"Liberation Serif","fontWeight":"bold","fontSize":29,"color":"#000000","align":"center","baseline":"middle"},
 "encoding":{"x":{"field":"d","type":"temporal"},"y":{"field":"v","type":"quantitative"},"text":{"field":"t"}}},
{"data":{"values":[
  {"d":"2021-10-19","v":363.6,"t":"4ème pic épidémique"},
  {"d":"2021-10-18","v":309.4,"t":"23 783 cas/jours"}]},
 "mark":{"type":"text","font":"Liberation Serif","fontWeight":"bold","fontSize":28,"color":"#000000","align":"center","baseline":"middle"},
 "encoding":{"x":{"field":"d","type":"temporal"},"y":{"field":"v","type":"quantitative"},"text":{"field":"t"}}},
{"data":{"values":[{"d":"2021-04-04","v":258.7,"t":"6 Avril 2021"}]},
 "mark":{"type":"text","font":"Liberation Serif","fontWeight":"bold","fontStyle":"italic","fontSize":26,"color":"#000000","align":"center","baseline":"middle"},
 "encoding":{"x":{"field":"d","type":"temporal"},"y":{"field":"v","type":"quantitative"},"text":{"field":"t"}}},
{"data":{"values":[{"d":"2021-10-18","v":195.8,"t":"13 août 2021"}]},
 "mark":{"type":"text","font":"Liberation Serif","fontSize":27.5,"color":"#000000","align":"center","baseline":"middle"},
 "encoding":{"x":{"field":"d","type":"temporal"},"y":{"field":"v","type":"quantitative"},"text":{"field":"t"}}},
{"data":{"values":[
  {"d":"2022-01-11","v":638.1,"t":"Tous vaccinés,"},
  {"d":"2022-01-11","v":576.9,"t":"tous protégés"}]},
 "mark":{"type":"text","font":"Liberation Serif","fontWeight":"bold","fontStyle":"italic","fontSize":28.5,"color":"#c8242b","align":"center","baseline":"middle"},
 "encoding":{"x":{"field":"d","type":"temporal"},"y":{"field":"v","type":"quantitative"},"text":{"field":"t"}}},
{"data":{"values":[
  {"d":"2022-08-07","v":617.1,"t":"5ème Pic épidémique"},
  {"d":"2022-08-07","v":564.7,"t":"26 janvier 2020"}]},
 "mark":{"type":"text","font":"Liberation Serif","fontWeight":"bold","fontSize":24.5,"color":"#000000","align":"center","baseline":"middle"},
 "encoding":{"x":{"field":"d","type":"temporal"},"y":{"field":"v","type":"quantitative"},"text":{"field":"t"}}},
{"data":{"values":[{"d":"2022-08-02","v":512.2,"t":"366 179"}]},
 "mark":{"type":"text","font":"Liberation Serif","fontWeight":"bold","fontSize":26,"color":"#d0282e","align":"right","baseline":"middle"},
 "encoding":{"x":{"field":"d","type":"temporal"},"y":{"field":"v","type":"quantitative"},"text":{"field":"t"}}},
{"data":{"values":[{"d":"2022-10-12","v":83.9,"t":"99 316"}]},
 "mark":{"type":"text","font":"Liberation Serif","fontWeight":"bold","fontSize":26.5,"color":"#3fae49","align":"right","baseline":"middle"},
 "encoding":{"x":{"field":"d","type":"temporal"},"y":{"field":"v","type":"quantitative"},"text":{"field":"t"}}},
{"data":{"values":[
  {"d":"2022-08-08","v":512.2,"t":"cas/jour"},
  {"d":"2022-10-18","v":83.9,"t":"cas/jour"}]},
 "mark":{"type":"text","font":"Liberation Serif","fontWeight":"bold","fontSize":26,"color":"#000000","align":"left","baseline":"middle"},
 "encoding":{"x":{"field":"d","type":"temporal"},"y":{"field":"v","type":"quantitative"},"text":{"field":"t"}}},
{"data":{"values":[{"d":"2021-10-13","v":-26.2,"t":"Vaccination de masse"}]},
 "mark":{"type":"text","font":"Liberation Serif","fontWeight":"bold","fontSize":33,"color":"#000000","align":"center","baseline":"middle"},
 "encoding":{"x":{"field":"d","type":"temporal"},"y":{"field":"v","type":"quantitative"},"text":{"field":"t"}}}
]
}
